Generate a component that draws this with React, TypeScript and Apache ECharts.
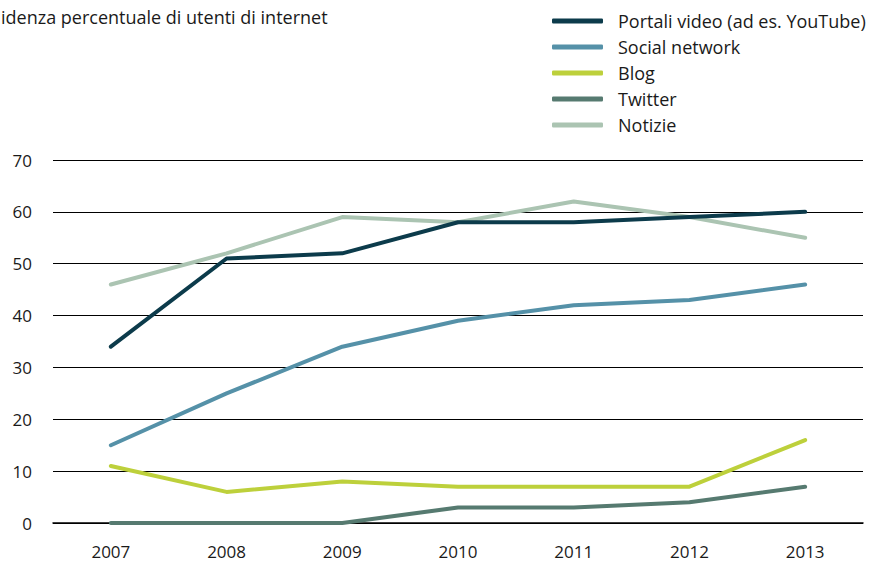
import React, { useEffect, useRef } from "react";
import * as echarts from "echarts";

const years = ["2007", "2008", "2009", "2010", "2011", "2012", "2013"];
const portaliVideo = [34, 51, 52, 58, 58, 59, 60];
const socialNetwork = [15, 25, 34, 39, 42, 43, 46];
const blog = [11, 6, 8, 7, 7, 7, 16];
const twitter = [0, 0, 0, 3, 3, 4, 7];
const notizie = [46, 52, 59, 58, 62, 59, 55];

const seriesNames = [
  "Portali video (ad es. YouTube)",
  "Social network",
  "Blog",
  "Twitter",
  "Notizie",
];
const seriesData = [portaliVideo, socialNetwork, blog, twitter, notizie];
const colors = ["#0c3b4b", "#5591a8", "#bdd03b", "#567a70", "#abc4b2"];

const FONT = "Open Sans";

export default function App() {
  const ref = useRef<HTMLDivElement>(null);
  useEffect(() => {
    if (!ref.current) return;
    const chart = echarts.init(ref.current, undefined, { renderer: "svg" });
    const order = [4, 3, 2, 1, 0];
    chart.setOption({
      animation: false,
      title: {
        text: "idenza percentuale di utenti di internet",
        left: -4,
        top: 3,
        textStyle: { fontFamily: FONT, fontSize: 18, fontWeight: "normal", color: "#1a1a1a" },
      },
      legend: {
        orient: "vertical",
        left: 552,
        top: 12,
        padding: 0,
        itemWidth: 51,
        itemHeight: 5,
        itemGap: 8,
        icon: "roundRect",
        data: seriesNames,
        textStyle: { fontFamily: FONT, fontSize: 18, color: "#1a1a1a", padding: [0, 0, 0, 10] },
      },
      grid: { left: 53, right: 6, top: 160, bottom: 39 },
      xAxis: {
        type: "category",
        data: years,
        boundaryGap: true,
        axisLine: { lineStyle: { color: "#000", width: 1.5 } },
        axisTick: { inside: true, length: 8, lineStyle: { color: "#000", width: 1.2 } },
        axisLabel: { fontFamily: FONT, fontSize: 17, color: "#1a1a1a", margin: 20 },
      },
      yAxis: {
        type: "value",
        min: 0,
        max: 70,
        interval: 10,
        axisLine: { show: false },
        axisTick: { show: false },
        splitLine: { lineStyle: { color: "#000", width: 1 } },
        axisLabel: { fontFamily: FONT, fontSize: 17, color: "#1a1a1a", margin: 21 },
      },
      series: order.map((i) => ({
        name: seriesNames[i],
        type: "line",
        data: seriesData[i],
        symbol: "none",
        color: colors[i],
        lineStyle: { width: 4, color: colors[i], cap: "round", join: "round" },
        z: 10 - i,
      })),
    });
    return () => chart.dispose();
  }, []);
  return <div ref={ref} style={{ width: 869, height: 562, position: "absolute", left: 0, top: 0 }} />;
}
